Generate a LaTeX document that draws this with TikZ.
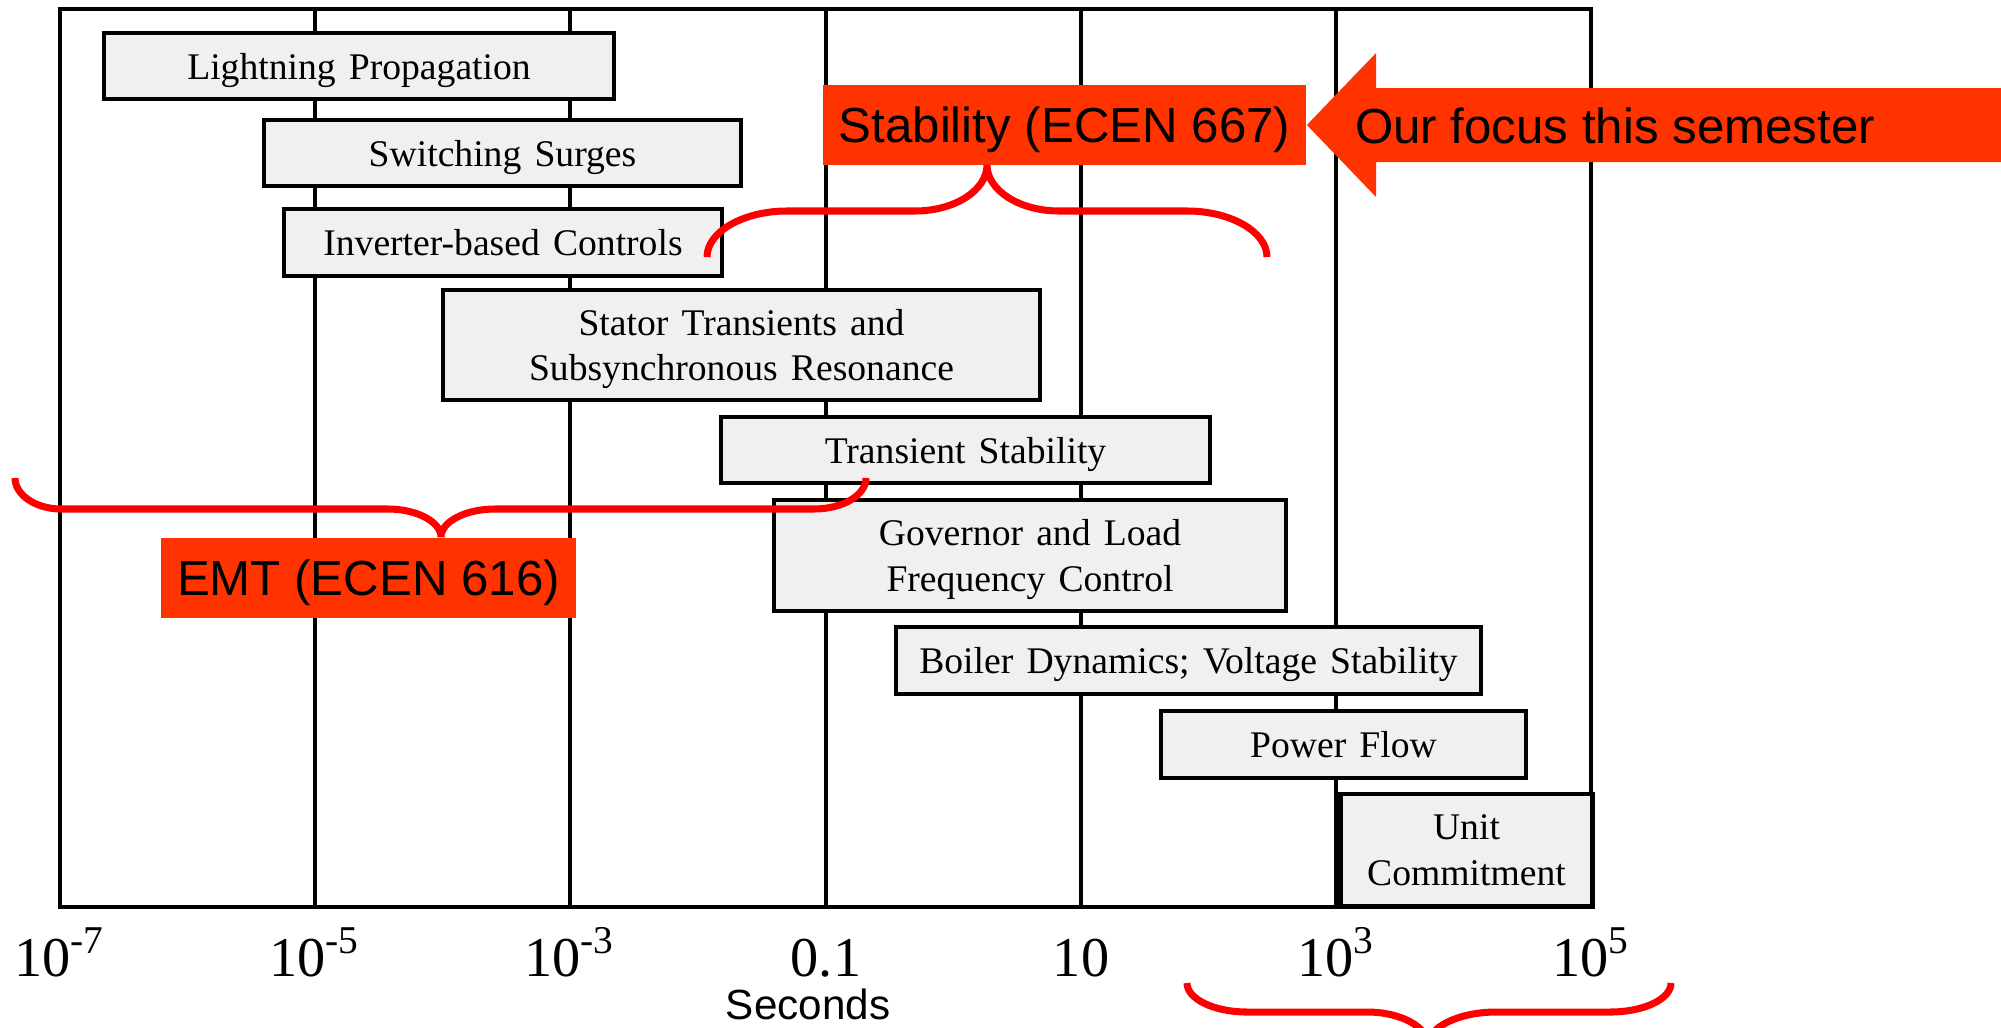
\documentclass[tikz,border=0pt]{standalone}
\usepackage{fontspec}
\setmainfont{Liberation Serif}
\newfontfamily\arialfont{Liberation Sans}
\newfontfamily\boxfont{Liberation Serif}[WordSpace=1.4]
\definecolor{boxgray}{HTML}{F0F0F0}
\definecolor{focusred}{HTML}{FF3300}
\definecolor{bracered}{HTML}{FF0000}

\begin{document}
\begin{tikzpicture}[x=0.01cm, y=-0.01cm,
    timebox/.style ={rectangle, draw, line width=1pt, fill=boxgray, inner sep=0pt, align=center,
                     text depth=0pt, font=\boxfont\fontsize{10.7}{13}\selectfont},
    course/.style ={rectangle, fill=focusred, inner sep=0pt, text depth=0pt,
                    font=\arialfont\fontsize{14}{16}\selectfont},
    ticklabel/.style ={anchor=base, inner sep=0pt, font=\fontsize{16}{18}\selectfont},
    brace/.style ={draw=bracered, line width=2pt}]
   \useasboundingbox (0,0) rectangle (2001,1027);

   % time scale grid
   \foreach \x in {315,570,826,1081,1336}
      \draw[line width=1.2pt] (\x,9) -- (\x,907);
   \draw[line width=1.4pt] (60,9) rectangle (1591,907);

   \node[ticklabel] (t1) at (60,976)   {10\textsuperscript{-7}};
   \node[ticklabel] (t2) at (315,976)  {10\textsuperscript{-5}};
   \node[ticklabel] (t3) at (570,976)  {10\textsuperscript{-3}};
   \node[ticklabel] (t4) at (826,976)  {0.1};
   \node[ticklabel] (t5) at (1081,976) {10};
   \node[ticklabel] (t6) at (1336,976) {10\textsuperscript{3}};
   \node[ticklabel] (t7) at (1591,976) {10\textsuperscript{5}};
   \node[anchor=base, inner sep=0pt, font=\arialfont\fontsize{12}{14}\selectfont] (seconds) at (808,1019) {Seconds};

   % phenomena
   \node[timebox, minimum width=5.10cm, minimum height=0.66cm] (lightning) at (359,66)    {Lightning Propagation};
   \node[timebox, minimum width=4.77cm, minimum height=0.66cm] (switching) at (502.5,153) {Switching Surges};
   \node[timebox, minimum width=4.38cm, minimum height=0.67cm] (inverter)  at (503,242.5) {Inverter-based Controls};
   \node[timebox, minimum width=5.97cm, minimum height=1.10cm] (stator)    at (741.5,345) {Stator Transients and\\Subsynchronous Resonance};
   \node[timebox, minimum width=4.89cm, minimum height=0.66cm] (transient) at (965.5,450) {Transient Stability};
   \node[timebox, minimum width=5.12cm, minimum height=1.11cm] (governor)  at (1030,555.5) {Governor and Load\\Frequency Control};
   \node[timebox, minimum width=5.85cm, minimum height=0.67cm] (boiler)    at (1188.5,660.5) {Boiler Dynamics; Voltage Stability};
   \node[timebox, minimum width=3.65cm, minimum height=0.67cm] (powerflow) at (1343.5,744.5) {Power Flow};
   \node[timebox, minimum width=2.51cm, minimum height=1.12cm, line width=1.4pt] (unit) at (1466.5,850) {Unit\\Commitment};

   % courses
   \node[course, minimum width=4.83cm, minimum height=0.80cm] (stability) at (1064.5,125) {Stability (ECEN 667)};
   \node[course, minimum width=4.15cm, minimum height=0.80cm] (emt) at (368.5,578) {EMT (ECEN 616)};

   \fill[focusred] (stability.east) -- (1376,53) -- (1376,88) -- (2001,88) -- (2001,162)
      -- (1376,162) -- (1376,197) -- cycle;
   \node[inner sep=0pt, font=\arialfont\fontsize{14}{16}\selectfont] (focus) at (1615,126) {Our focus this semester};

   % braces
   \draw[brace] (707,257) .. controls (707,232) and (743,211) .. (787,211) -- (915,211)
      .. controls (955,211) and (987,190) .. (987,165)
      .. controls (987,190) and (1019,211) .. (1059,211) -- (1187,211)
      .. controls (1231,211) and (1267,232) .. (1267,257);
   \draw[brace] (15,478) .. controls (15,495) and (36,509) .. (61,509) -- (388,509)
      .. controls (417,509) and (441,522) .. (441,537)
      .. controls (441,522) and (465,509) .. (495,509) -- (814,509)
      .. controls (843,509) and (866,495) .. (866,478);
   \draw[brace] (1187,983) .. controls (1187,999) and (1214,1012) .. (1247,1012) -- (1367,1012)
      .. controls (1401,1012) and (1428,1027) .. (1428,1045)
      .. controls (1428,1027) and (1459,1012) .. (1496,1012) -- (1610,1012)
      .. controls (1644,1012) and (1671,999) .. (1671,983);
\end{tikzpicture}
\end{document}
